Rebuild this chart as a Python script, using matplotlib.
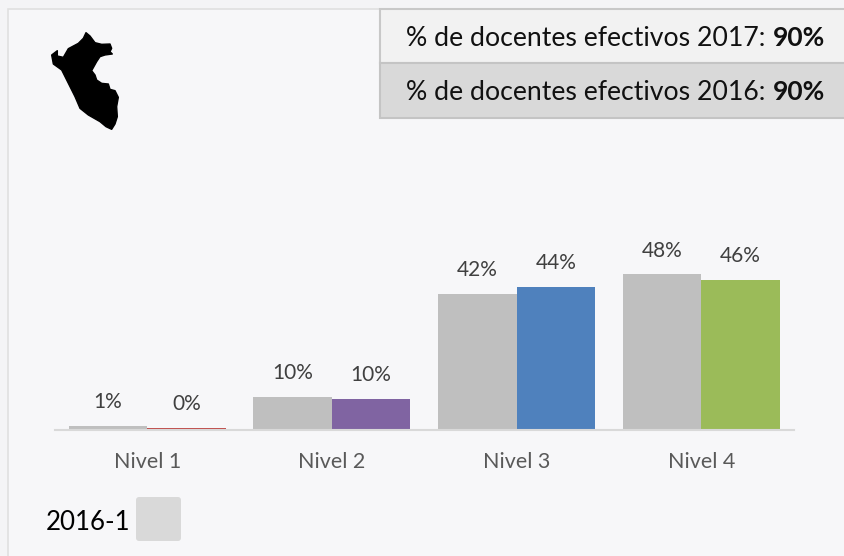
import matplotlib
matplotlib.use('Agg')
from matplotlib import pyplot as plt
from matplotlib.patches import Rectangle, Polygon, FancyBboxPatch

plt.rcParams['font.family'] = ['Lato', 'DejaVu Sans']

niveles = ['Nivel 1', 'Nivel 2', 'Nivel 3', 'Nivel 4']
valores_2016 = [1, 10, 42, 48]
valores_2017 = [0.4, 9.5, 44, 46.2]
etiquetas_2016 = ['1%', '10%', '42%', '48%']
etiquetas_2017 = ['0%', '10%', '44%', '46%']
colores_2017 = ['#c0504d', '#8064a2', '#4f81bd', '#9bbb59']
color_2016 = '#bfbfbf'
docentes = [('% de docentes efectivos 2017:', '90%'), ('% de docentes efectivos 2016:', '90%')]
leyenda = '2016-1'

# contorno del mapa, en pixeles del zoom x3
mapa = [(258,98),(270,108),(285,128),(305,133),(330,132),(335,145),(330,155),(337,162),
        (315,165),(300,170),(290,185),(275,212),(285,225),(290,240),(305,250),(325,252),
        (330,268),(345,272),(355,292),(350,320),(352,350),(345,372),(335,388),(318,380),
        (300,365),(265,345),(240,325),(225,290),(205,250),(185,210),(160,192),(155,165),
        (172,152),(172,168),(190,172),(205,146),(235,130),(250,115)]

W, H = 844, 556
FONDO = '#f7f7f9'

fig = plt.figure(figsize=(W / 100, H / 100), dpi=100, facecolor='white')

# capa de fondo en coordenadas de pixel
bg = fig.add_axes([0, 0, 1, 1], zorder=0)
bg.set_xlim(0, W)
bg.set_ylim(H, 0)
bg.axis('off')
bg.add_patch(Rectangle((0, 0), W, H, fc='#f4f4f6', ec='none'))
bg.add_patch(Rectangle((7.5, 8.5), W, H, fc=FONDO, ec='#e0e0e0', lw=1.2))
bg.add_patch(Polygon([(x / 3, y / 3) for x, y in mapa], fc='black', ec='black', lw=1, joinstyle='round'))

# cajas de arriba
bg.add_patch(Rectangle((380, 8.5), W, 54, fc='#f2f2f2', ec='#c8c8c8', lw=1.5))
bg.add_patch(Rectangle((380, 62.5), W, 55, fc='#d9d9d9', ec='#c4c4c4', lw=1.5))
for (txt, pct), y in zip(docentes, [38, 92]):
    bg.text(406, y, txt, fontsize=19.2, va='center', ha='left', color='#111111')
    bg.text(825.5, y, pct, fontsize=19, va='center', ha='right', weight='bold', color='#111111')

# leyenda
bg.text(46, 523, leyenda, fontsize=18.6, va='center', ha='left', color='black')
bg.add_patch(FancyBboxPatch((139, 500), 39, 38, boxstyle='round,pad=3,rounding_size=3',
                            fc='#d9d9d9', ec='none'))

# barras
ax = fig.add_axes([54.8 / W, (H - 429.5) / H, 739 / W, 323 / H], zorder=1)
ax.patch.set_alpha(0)
x = list(range(len(niveles)))
ancho = 0.425
b1 = ax.bar([i - ancho / 2 for i in x], valores_2016, ancho, color=color_2016)
b2 = ax.bar([i + ancho / 2 for i in x], valores_2017, ancho, color=colores_2017)
ax.bar_label(b1, labels=etiquetas_2016, padding=10, fontsize=15, color='#404040')
ax.bar_label(b2, labels=etiquetas_2017, padding=10, fontsize=15, color='#404040')

ax.set_xlim(-0.5, 3.5)
ax.set_ylim(0, 100)
ax.set_xticks(x)
ax.set_xticklabels(niveles, fontsize=15.5, color='#595959')
ax.tick_params(axis='x', length=0, pad=16.5)
ax.set_yticks([])
for lado in ['top', 'left', 'right']:
    ax.spines[lado].set_visible(False)
ax.spines['bottom'].set_color('#d9d9d9')
ax.spines['bottom'].set_linewidth(1.5)

fig.savefig('out.png', dpi=100)
